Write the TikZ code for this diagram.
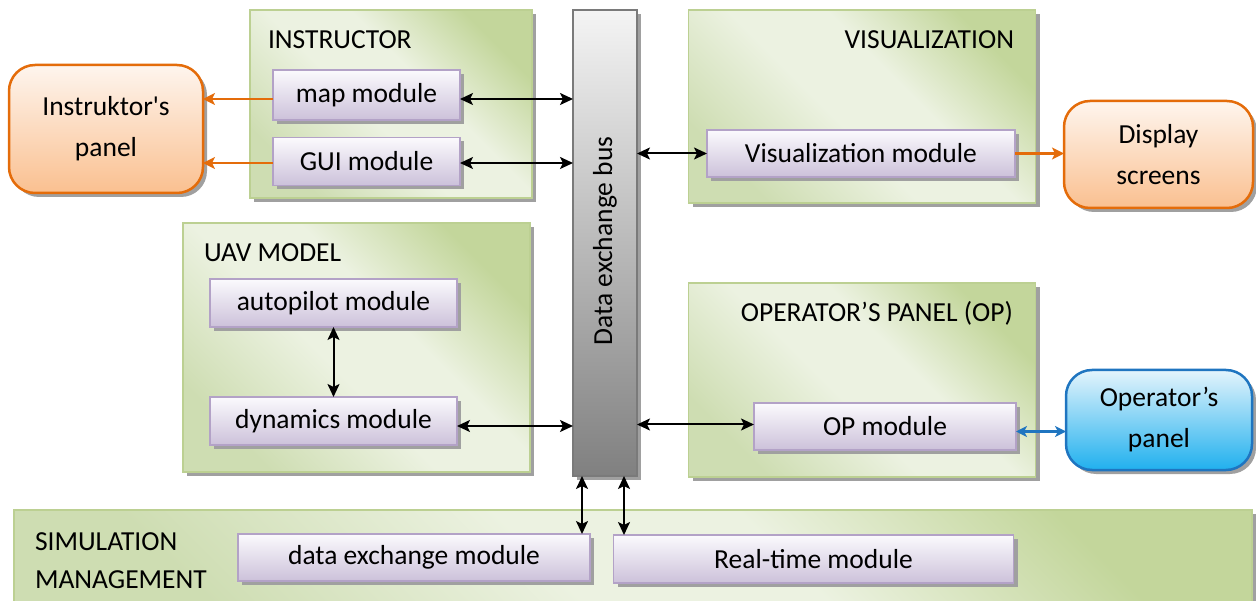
\documentclass[tikz,border=0pt]{standalone}
\usepackage{fontspec}
\setmainfont{Carlito}[Ligatures=TeXOff]
\usetikzlibrary{shadows,arrows.meta}
\definecolor{glight}{HTML}{ECF2E1}
\definecolor{gmid}{HTML}{CEDDB2}
\definecolor{gdark}{HTML}{C3D69B}
\definecolor{gline}{HTML}{BCD092}
\definecolor{mtop}{HTML}{FBFAFD}
\definecolor{mbot}{HTML}{CCC1DA}
\definecolor{mline}{HTML}{B3A2C7}
\definecolor{otop}{HTML}{FEF5EE}
\definecolor{obot}{HTML}{FAC090}
\definecolor{oline}{HTML}{E46C0A}
\definecolor{btop}{HTML}{E4F4FC}
\definecolor{bbot}{HTML}{20B0EE}
\definecolor{bline}{HTML}{1F75C0}
\definecolor{bustop}{HTML}{F4F4F4}
\definecolor{busbot}{HTML}{808080}
\definecolor{busline}{HTML}{7A7A7A}
\definecolor{shadowc}{HTML}{A0A0A0}
\pgfdeclarehorizontalshading{grpshade}{100bp}{color(0bp)=(gmid); color(25bp)=(gmid); color(45bp)=(glight); color(58bp)=(glight); color(75bp)=(gdark); color(100bp)=(gdark)}
\begin{document}
\begin{tikzpicture}[x=1pt,y=-1pt,
  every node/.style={font=\fontsize{27.5}{41}\selectfont, inner sep=0pt, outer sep=0pt},
  shad/.style={drop shadow={shadow xshift=4pt, shadow yshift=-4pt, fill=shadowc, opacity=1}},
  grp/.style={shad, draw=gline, line width=1.5pt, shading=grpshade, shading angle=45},
  module/.style={shad, draw=mline, line width=1.5pt, top color=mtop, bottom color=mbot, align=center},
  opanel/.style={shad, draw=oline, line width=2.5pt, top color=otop, bottom color=obot, rounded corners=26pt, align=center},
  bpanel/.style={shad, draw=bline, line width=2.5pt, top color=btop, bottom color=bbot, rounded corners=26pt, align=center},
  busbox/.style={shad, draw=busline, line width=2pt, top color=bustop, bottom color=busbot},
  lbl/.style={anchor=west},
  barrow/.style={line width=2pt, {Stealth[length=13pt,width=12pt,inset=3pt]}-{Stealth[length=13pt,width=12pt,inset=3pt]}},
  oarrow/.style={line width=2.5pt, draw=oline, -{Stealth[length=12pt,width=12pt,inset=3pt]}},
  blarrow/.style={line width=2.5pt, draw=bline, {Stealth[length=11pt,width=11pt,inset=3pt]}-{Stealth[length=11pt,width=11pt,inset=3pt]}}
]
\useasboundingbox (0,0) rectangle (1256,601);

% group boxes
\node[grp, minimum width=282pt, minimum height=188pt] (inst) at (391,104) {};
\node[grp, minimum width=347pt, minimum height=193pt] (vis) at (862,106.5) {};
\node[grp, minimum width=347pt, minimum height=249pt] (uav) at (356.5,347.5) {};
\node[grp, minimum width=347pt, minimum height=194pt] (op) at (862,380) {};
\node[grp, minimum width=1238pt, minimum height=92pt] (sim) at (633,556) {};

% group labels
\node[lbl] (instl) at (268,40) {INSTRUCTOR};
\node[anchor=east] (visl) at (1014,40) {VISUALIZATION};
\node[lbl] (uavl) at (204,253) {UAV MODEL};
\node[anchor=east] (opl) at (1013,313) {OPERATOR’S PANEL (OP)};
\node[lbl, align=left, font=\fontsize{27.5}{38}\selectfont] (siml) at (35,561) {SIMULATION\\MANAGEMENT};

% bus
\node[busbox, minimum width=64pt, minimum height=466pt] (bus) at (605,243) {};
\node[rotate=90] (bustxt) at (605,241) {Data exchange bus};

% modules
\node[module, minimum width=187pt, minimum height=50pt] (map) at (366.5,95) {map module};
\node[module, minimum width=187pt, minimum height=48pt] (gui) at (366.5,161.5) {GUI module};
\node[module, minimum width=308pt, minimum height=47pt] (vmod) at (861,153.5) {Visualization module};
\node[module, minimum width=247pt, minimum height=48pt] (auto) at (333.5,303) {autopilot module};
\node[module, minimum width=247pt, minimum height=48pt] (dyn) at (333.5,421) {dynamics module};
\node[module, minimum width=262pt, minimum height=47pt] (opm) at (885,426.5) {OP module};
\node[module, minimum width=352pt, minimum height=47pt] (dex) at (414,557.5) {data exchange module};
\node[module, minimum width=400pt, minimum height=48pt] (rt) at (813.5,559) {Real-time module};

% panels
\node[opanel, minimum width=194pt, minimum height=128pt] (ipanel) at (106,129) {Instruktor's\\panel};
\node[opanel, minimum width=189pt, minimum height=107pt] (dpanel) at (1158.5,154.5) {Display\\screens};
\node[bpanel, minimum width=186pt, minimum height=100pt] (opanelnode) at (1159,420) {Operator’s\\panel};

% connectors
\draw[barrow] ([yshift=-4pt]map.east) -- ([yshift=-4pt]map.east -| bus.west);
\draw[barrow] ([yshift=-1.5pt]gui.east) -- ([yshift=-1.5pt]gui.east -| bus.west);
\draw[barrow] (vmod.west -| bus.east) -- (vmod.west);
\draw[barrow] (auto.south) -- (dyn.north);
\draw[barrow] ([yshift=-5pt]dyn.east) -- ([yshift=-5pt]dyn.east -| bus.west);
\draw[barrow] ([yshift=2pt]opm.west -| bus.east) -- ([yshift=2pt]opm.west);
\draw[barrow] ([xshift=-23pt]bus.south) -- ([xshift=-23pt]bus.south |- dex.north);
\draw[barrow] ([xshift=19pt]bus.south) -- ([xshift=19pt]bus.south |- rt.north);

\draw[oarrow] ([yshift=-4pt]map.west) -- ([yshift=-4pt]map.west -| ipanel.east);
\draw[oarrow] ([yshift=-1.5pt]gui.west) -- ([yshift=-1.5pt]gui.west -| ipanel.east);
\draw[oarrow] (vmod.east) -- (vmod.east -| dpanel.west);
\draw[blarrow] ([yshift=-5pt]opm.east) -- ([yshift=-5pt]opm.east -| opanelnode.west);
\end{tikzpicture}
\end{document}
